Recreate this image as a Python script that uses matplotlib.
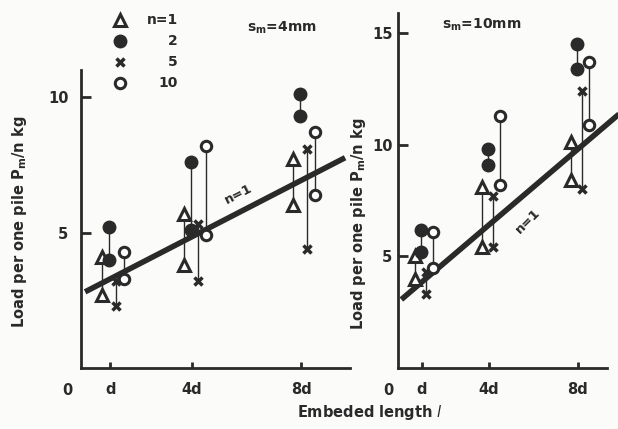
import numpy as np
import matplotlib.pyplot as plt
from matplotlib.lines import Line2D

plt.rcParams['font.family'] = ['DejaVu Sans']
plt.rcParams['mathtext.fontset'] = 'dejavusans'

# embedded length in units of d
lengths = np.array([1, 4, 8])
xtick_labels = ['d', '4d', '8d']

# (upper, lower) load per pile at d, 4d, 8d -- s_m = 4mm
s4_n1 = [(4.1, 2.7), (5.7, 3.8), (7.7, 6.0)]
s4_n2 = [(5.2, 4.0), (7.6, 5.1), (10.1, 9.3)]
s4_n5 = [(3.2, 2.3), (5.3, 3.2), (8.1, 4.4)]
s4_n10 = [(4.3, 3.3), (8.2, 4.9), (8.7, 6.4)]
s4_fit = (2.77, 0.52)   # intercept, slope of n=1 line

# s_m = 10mm
s10_n1 = [(5.0, 4.0), (8.1, 5.4), (10.1, 8.4)]
s10_n2 = [(6.2, 5.2), (9.8, 9.1), (14.5, 13.4)]
s10_n5 = [(4.3, 3.3), (7.7, 5.4), (12.4, 8.0)]
s10_n10 = [(6.1, 4.5), (11.3, 8.2), (13.7, 10.9)]
s10_fit = (3.0, 0.85)

ink = '#2a2a2a'
styles = {
    1: dict(marker='^', mfc='white', mec=ink, ms=9, mew=2.2),
    2: dict(marker='o', mfc=ink, mec=ink, ms=9, mew=1),
    5: dict(marker='x', mec=ink, ms=6, mew=2.5),
    10: dict(marker='o', mfc='white', mec=ink, ms=7.5, mew=2.2),
}
offsets = {1: -0.3, 2: -0.05, 5: 0.2, 10: 0.5}
fs = 10.5

fig = plt.figure(figsize=(6.18, 4.29), dpi=100)
fig.patch.set_facecolor('#fbfbf9')

ax1 = fig.add_axes([81/618, 61/429, 269/618, 298/429])
ax2 = fig.add_axes([398/618, 61/429, 209/618, 355/429])


def panel(ax, groups, fit, xmax, ymax, yticks, line_end, txt_pos, txt_rot,
          ypad, zero_dx):
    ax.set_facecolor('none')
    for n, pairs in groups.items():
        xs = lengths + offsets[n]
        for xv, (hi, lo) in zip(xs, pairs):
            ax.plot([xv, xv], [lo, hi], color=ink, lw=1, zorder=2)
    b, k = fit
    xl = np.array([0.08, line_end])
    ax.plot(xl, b + k*xl, color=ink, lw=4, zorder=3, clip_on=False,
            solid_capstyle='butt')
    for n, pairs in groups.items():
        xs = lengths + offsets[n]
        for xv, (hi, lo) in zip(xs, pairs):
            ax.plot([xv, xv], [hi, lo], ls='none', zorder=4, clip_on=False,
                    **styles[n])
    ax.text(txt_pos[0], txt_pos[1], 'n=1', rotation=txt_rot, fontsize=9.5,
            color=ink, ha='center', va='center', fontweight='bold')
    ax.set_xlim(-0.07, xmax)
    ax.set_ylim(0, ymax)
    ax.set_xticks(lengths)
    ax.set_xticklabels(xtick_labels)
    ax.set_yticks(yticks)
    for s in ['top', 'right']:
        ax.spines[s].set_visible(False)
    for s in ['left', 'bottom']:
        ax.spines[s].set_linewidth(2)
        ax.spines[s].set_color(ink)
    ax.tick_params(axis='y', direction='in', length=7, width=2, pad=ypad,
                   labelsize=fs, colors=ink)
    ax.tick_params(axis='x', direction='in', length=4, width=2, pad=10,
                   labelsize=fs, colors=ink)
    for lab in ax.get_xticklabels() + ax.get_yticklabels():
        lab.set_fontweight('bold')
    ax.annotate('0', xy=(0, 0), xycoords='axes fraction', xytext=(zero_dx, -16),
                textcoords='offset points', ha='center', va='center',
                fontsize=fs, fontweight='bold', color=ink)


panel(ax1, {1: s4_n1, 2: s4_n2, 5: s4_n5, 10: s4_n10}, s4_fit,
      9.78, 11.0, [5, 10], 9.6, (5.68, 6.4), 27, 9, -10)
panel(ax2, {1: s10_n1, 2: s10_n2, 5: s10_n5, 10: s10_n10}, s10_fit,
      9.31, 15.9, [5, 10, 15], 9.9, (5.75, 6.6), 45, 4, -7)

# legend
leg_rows = [(1, 'n=1'), (2, '2'), (5, '5'), (10, '10')]
for i, (n, lab) in enumerate(leg_rows):
    yy = 1 - (20 + i*21)/429
    fig.add_artist(Line2D([120/618], [yy], ls='none', transform=fig.transFigure,
                          **styles[n]))
    fig.text(178/618, yy, lab, ha='right', va='center', fontsize=10,
             fontweight='bold', color=ink)

fig.text(282/618, 1 - 28/429, r'$\mathregular{s_m}$=4mm', ha='center',
         va='center', fontsize=10, fontweight='bold', color=ink)
fig.text(482/618, 1 - 25/429, r'$\mathregular{s_m}$=10mm', ha='center',
         va='center', fontsize=10, fontweight='bold', color=ink)

ylab = r'Load per one pile P$_\mathregular{m}$/n kg'
fig.text(20/618, 1 - 222/429, ylab, rotation=90, ha='center', va='center',
         fontsize=fs, fontweight='bold', color=ink)
fig.text(358/618, 1 - 224/429, ylab, rotation=90, ha='center', va='center',
         fontsize=fs, fontweight='bold', color=ink)
fig.text(370/618, 1 - 413/429, r'Embeded length $\mathit{l}$', ha='center',
         va='center', fontsize=fs, fontweight='bold', color=ink)

plt.savefig('out.png', dpi=100, facecolor=fig.get_facecolor())
